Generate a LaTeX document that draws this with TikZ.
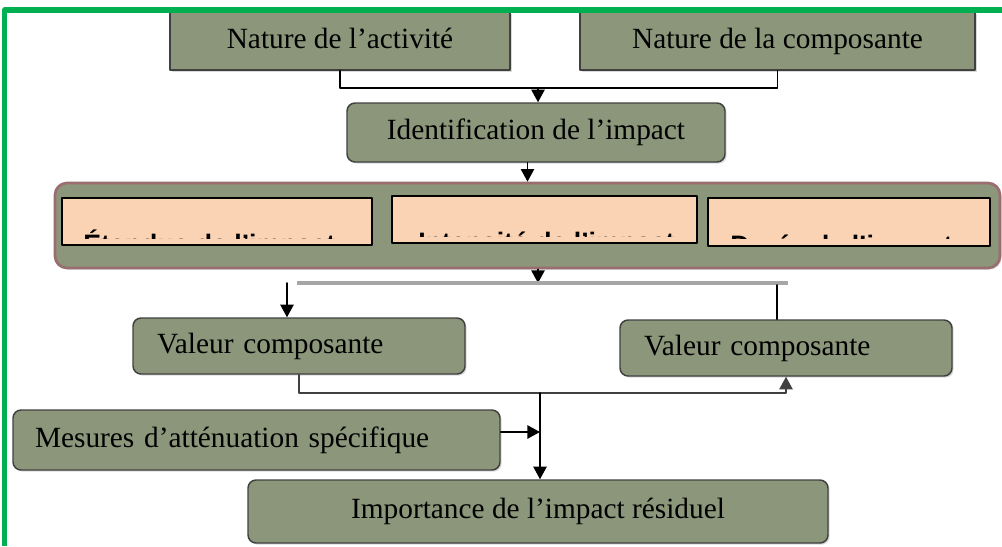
\documentclass[tikz,border=0pt]{standalone}
\usepackage{fontspec}
\setmainfont{Liberation Serif}
\newfontfamily\casefont{Liberation Sans}
\usetikzlibrary{arrows.meta,shadows}
\definecolor{fondolive}{HTML}{8C967A}
\definecolor{fondpeche}{HTML}{FAD3B4}
\definecolor{bordrouge}{HTML}{9A6E6E}
\definecolor{cadrevert}{HTML}{00B050}
\tikzset{
	boite/.style={draw=black!75,line width=1.1pt,fill=fondolive,minimum height=43.5pt,
		text height=15pt,text depth=4.5pt,
		drop shadow={shadow xshift=1.2pt,shadow yshift=-1.2pt,opacity=.3}},
	arrondie/.style={rounded corners=6pt},
	case/.style={draw=black,line width=1.5pt,fill=fondpeche,minimum height=35.5pt},
	gris/.style={draw=black!35,line width=3pt,line cap=butt},
	fil/.style={line width=1.2pt}
}
\begin{document}
\begin{tikzpicture}[x=.75pt,y=-.75pt,font=\fontsize{22}{26}\selectfont,line join=round,line cap=round,>={Triangle[length=9.5pt,width=10pt]}]
				\useasboundingbox (0,0) rectangle (1002,546);
				\path 
				(538,88)coordinate(J1) 
				(538,283)coordinate(J0) 
				(297,283)coordinate(G1) 
				(788,283)coordinate(G2) 
				(287,283)coordinate(T1) 
				(777,285)coordinate(T2) 
				(540,393)coordinate(J2) 
				;
				\node[boite,minimum width=255pt] (act) at (340,41) {Nature de l’activité};
				\node[boite,minimum width=296.25pt] (comp) at (777.5,41) {Nature de la composante};
				\node[boite,arrondie,minimum width=283.5pt,minimum height=44.25pt] (ident) at (536,132.5) {Identification de l’impact};
				\node[boite,rounded corners=9pt,draw=bordrouge,line width=2pt,minimum width=708.75pt,minimum height=63.75pt] (crit) at (527.5,225.5) {};
				\foreach \n/\cx/\cy/\w/\tx/\t in {e/217/221.5/232.5/83/{Étendue de l’impact},i/544.5/219.5/228.75/418/{Intensité de l’impact},d/849/222/211.5/730/{Durée de l’impact}}{
					\node[case,minimum width=\w pt] (\n) at (\cx,\cy) {};
					\begin{scope}
						\clip (\n.north west) rectangle ([yshift=6pt]\n.south east);
						\node[anchor=base west,inner sep=0pt,font=\casefont\bfseries\fontsize{20}{24}\selectfont] at (\tx,\cy+32) {\t};
					\end{scope}}
				\node[boite,arrondie,align=left,inner xsep=18pt,text width=213pt,minimum height=42pt] (v1) at (299,346) {Valeur composante};
				\node[boite,arrondie,align=left,inner xsep=18pt,text width=213pt,minimum height=42pt] (v2) at (786,348) {Valeur composante};
				\node[boite,arrondie,align=left,inner xsep=16.5pt,text width=332.25pt,minimum height=45pt] (mes) at (256.5,440) {Mesures d’atténuation spécifique};
				\node[boite,arrondie,minimum width=435pt,minimum height=47.25pt] (imp) at (538,511.5) {Importance de l’impact résiduel};
				\path ([yshift=6pt]mes.east) coordinate (M1);
				\draw[fil] (act.south)|-(J1)-|(comp.south);
				\draw[->,fil] (J1)--(J1|-ident.north);
				\draw[->,fil] (ident.south-|crit.north)--(crit.north);
				\draw[->,fil] (J0|-crit.south)--(J0);
				\draw[gris] (G1)--(G2);
				\draw[->,fil] (T1)--(T1|-v1.north);
				\draw[fil] (T2)--(T2|-v2.north);
				\draw[->,fil,black!75] (v1.south)|-(J2)-|(v2.south);
				\draw[->,fil] (J2)--(J2|-imp.north);
				\draw[->,fil] (M1)--(M1-|J2);
				\draw[cadrevert,line width=4pt,line cap=butt] (4.5,546)--(4.5,10)--(1002,10);
			\end{tikzpicture}
\end{document}
